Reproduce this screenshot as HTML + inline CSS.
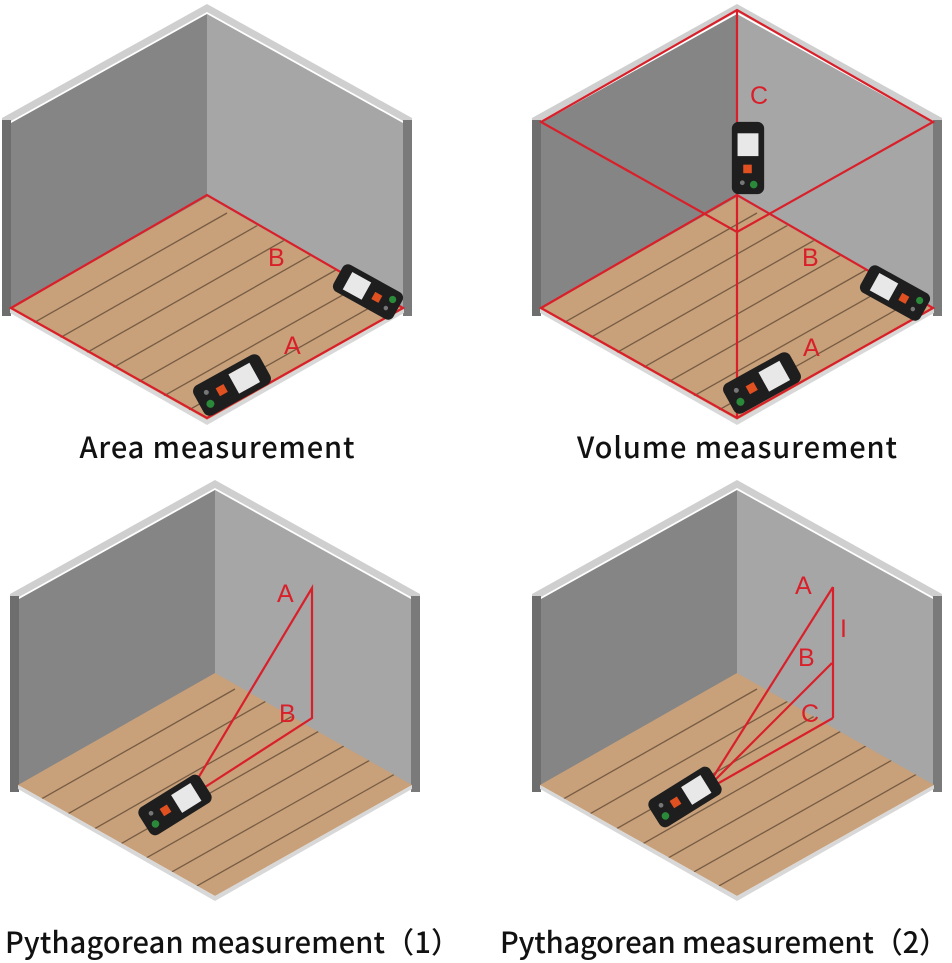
<!DOCTYPE html>
<html><head><meta charset="utf-8"><style>
body{margin:0;background:#fff;width:952px;height:963px;overflow:hidden}
svg{display:block}
</style></head><body>
<svg width="952" height="963" viewBox="0 0 952 963" xmlns="http://www.w3.org/2000/svg">
<defs>
<clipPath id="fl"><polygon points="-197,301 0,189 197,301 0,412"/></clipPath>
<g id="room">
  <polygon points="-205,110 0,-4 205,110 205,118 0,4 -205,118" fill="#cfcfcf"/>
  <rect x="-205" y="112" width="9" height="196" fill="#6e6e6e"/>
  <rect x="196" y="112" width="9" height="196" fill="#7a7a7a"/>
  <polygon points="-196,115 0,6 0,190 -196,302" fill="#858585"/>
  <polygon points="0,6 196,115 196,302 0,190" fill="#a6a6a6"/>
  <polygon points="-197,301 0,189 197,301 0,412" fill="#c8a07a"/>
  <g clip-path="url(#fl)" stroke="#5c4632" stroke-width="1.3" opacity="0.75">
    <line x1="-200" y1="330" x2="20" y2="205"/>
    <line x1="-200" y1="360" x2="60" y2="212"/>
    <line x1="-200" y1="390" x2="90" y2="225"/>
    <line x1="-200" y1="420" x2="120" y2="238"/>
    <line x1="-150" y1="420" x2="150" y2="250"/>
    <line x1="-100" y1="420" x2="180" y2="262"/>
    <line x1="-50" y1="420" x2="210" y2="273"/>
    <line x1="0" y1="420" x2="210" y2="300"/>
    <line x1="40" y1="420" x2="210" y2="325"/>
  </g>
  <polygon points="-197,301 0,412 197,301 197,305 0,417 -197,305" fill="#d8d8d8"/>
</g>
<g id="dev">
  <rect x="-38" y="-17" width="76" height="34" rx="7" fill="#1e1e1e"/>
  <rect x="2" y="-11" width="24" height="22" fill="#e8e8e8"/>
  <rect x="-16" y="-5" width="9" height="9" fill="#e05020"/>
  <circle cx="-28" cy="6" r="4" fill="#2a8a3a"/>
  <circle cx="-26" cy="-6" r="2.5" fill="#777"/>
</g>
</defs>
<style>.l{stroke:#d9202a;stroke-width:2.2;fill:none}.t{fill:#d9202a;font-family:"Liberation Sans",sans-serif;font-size:25px}.c{font-family:"Noto Sans CJK SC","Liberation Sans",sans-serif;font-size:29px;font-weight:500;fill:#111}</style>

<!-- Panel 1 -->
<g transform="translate(207,8)">
  <use href="#room"/>
  <polygon class="l" points="-196,300 0,187 196,300 0,410"/>
</g>
<text class="t" x="268" y="266">B</text>
<text class="t" x="284" y="354">A</text>
<use href="#dev" transform="translate(232,385) rotate(-29)"/>
<use href="#dev" transform="translate(368,292) rotate(209) scale(0.9)"/>
<text class="c" x="217" y="458" text-anchor="middle" textLength="275">Area measurement</text>

<!-- Panel 2 -->
<g transform="translate(737,8)">
  <use href="#room"/>
  <polygon class="l" points="-196,300 0,187 196,300 0,410"/>
  <polygon class="l" points="-196,114 0,2 196,114 0,224"/>
  <line class="l" x1="0" y1="2" x2="0" y2="410"/>
</g>
<text class="t" x="750" y="104">C</text>
<text class="t" x="802" y="266">B</text>
<text class="t" x="803" y="356">A</text>
<use href="#dev" transform="translate(748,158) rotate(-90) scale(0.95)"/>
<use href="#dev" transform="translate(762,383) rotate(-29)"/>
<use href="#dev" transform="translate(895,293) rotate(209) scale(0.9)"/>
<text class="c" x="737" y="458" text-anchor="middle" textLength="320">Volume measurement</text>

<!-- Panel 3 -->
<g transform="translate(215,484)">
  <use href="#room"/>
</g>
<g class="l">
  <polyline points="185,800 312,588 312,718 185,800"/>
</g>
<text class="t" x="277" y="602">A</text>
<text class="t" x="279" y="722">B</text>
<use href="#dev" transform="translate(175,805) rotate(-32) scale(0.95)"/>
<text class="c" x="5" y="953" textLength="455">Pythagorean measurement（1）</text>

<!-- Panel 4 -->
<g transform="translate(737,484)">
  <use href="#room"/>
</g>
<g class="l">
  <line x1="710" y1="782" x2="833" y2="587"/>
  <line x1="710" y1="785" x2="832" y2="663"/>
  <line x1="710" y1="788" x2="833" y2="718"/>
  <line x1="833" y1="587" x2="833" y2="718"/>
</g>
<text class="t" x="795" y="594">A</text>
<text class="t" x="840" y="637">I</text>
<text class="t" x="798" y="666">B</text>
<text class="t" x="801" y="722">C</text>
<use href="#dev" transform="translate(685,797) rotate(-32) scale(0.95)"/>
<text class="c" x="500" y="953" textLength="448">Pythagorean measurement（2）</text>
</svg>
</body></html>
